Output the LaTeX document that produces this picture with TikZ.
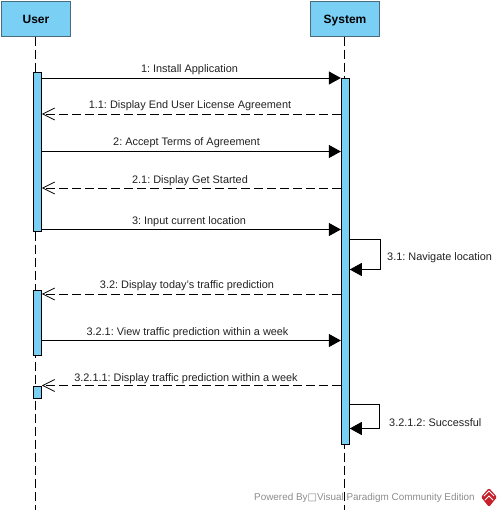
\documentclass[tikz,border=0pt]{standalone}
\usepackage{fontspec}
\setmainfont{Liberation Sans}
\newfontfamily\symfont{DejaVu Sans}
\usetikzlibrary{arrows.meta}
\definecolor{vpfill}{HTML}{7ACFF5}
\definecolor{vpedge}{HTML}{4A6B7C}
\definecolor{vptext}{HTML}{222222}
\definecolor{wmark}{HTML}{8C8C8C}
\definecolor{logored}{HTML}{C8202A}
\tikzset{
  x=1pt,y=-1pt,
  headbox/.style={draw=vpedge,fill=vpfill,line width=0.9pt,minimum width=69pt,minimum height=35pt,inner sep=0pt,font=\bfseries\fontsize{12}{14}\selectfont},
  actbox/.style={draw=black,fill=vpfill,line width=0.9pt,minimum width=8pt,inner sep=0pt},
  lifeline/.style={draw=black,line width=0.9pt,dash pattern=on 9pt off 4pt},
  sync/.style={draw=black,line width=0.9pt,-{Triangle[length=12pt,width=13pt]}},
  reply/.style={draw=black,line width=0.8pt,dash pattern=on 9pt off 4pt,-{Straight Barb[length=12pt,width=12pt,line width=0.7pt]}},
  msg/.style={font=\frenchspacing\fontsize{10.9}{12}\selectfont,text=vptext,inner sep=0pt,anchor=center},
}
\begin{document}
\begin{tikzpicture}
\useasboundingbox (0,0) rectangle (502,514);
\node[headbox] (user) at (36,19) {\raisebox{-5pt}[0pt][0pt]{User}};
\node[headbox] (system) at (345,19) {\raisebox{-5pt}[0pt][0pt]{System}};
\coordinate (uend) at (35,510);
\coordinate (send) at (344.5,510);
\draw[lifeline] (35,36.5) -- (uend);
\draw[lifeline] (344.5,36.5) -- (send);
\node[actbox,minimum height=159pt] (ua) at (37.5,151.5) {};
\node[actbox,minimum height=65.5pt] (ub) at (37.5,322.75) {};
\node[actbox,minimum height=12pt] (uc) at (37.5,392) {};
\node[actbox,minimum height=366pt] (sa) at (345.3,261) {};
% messages
\draw[sync] (ua.east |- 0,78) -- (sa.west |- 0,78);
\node[msg] (m1) at (189.5,69.5) {1: Install Application};
\draw[reply] (sa.west |- 0,114) -- (ua.east |- 0,114);
\node[msg] (m2) at (190,105.5) {1.1: Display End User License Agreement};
\draw[sync] (ua.east |- 0,151.5) -- (sa.west |- 0,151.5);
\node[msg] (m3) at (186.5,143) {2: Accept Terms of Agreement};
\draw[reply] (sa.west |- 0,188) -- (ua.east |- 0,188);
\node[msg] (m4) at (190,181) {2.1: Display Get Started};
\draw[sync] (ua.east |- 0,229.5) -- (sa.west |- 0,229.5);
\node[msg] (m5) at (189,221.5) {3: Input current location};
\coordinate (s1) at (380,239);
\coordinate (s2) at (380,269.5);
\draw[sync] (sa.east |- s1) -- (s1) -- (s2) -- (sa.east |- s2);
\node[msg,anchor=west] (m6) at (387,257.5) {3.1: Navigate location};
\draw[reply] (sa.west |- 0,294) -- (ub.east |- 0,294);
\node[msg] (m7) at (187,286) {3.2: Display today's traffic prediction};
\draw[sync] (ub.east |- 0,340.5) -- (sa.west |- 0,340.5);
\node[msg] (m8) at (187.5,332.5) {3.2.1: View traffic prediction within a week};
\draw[reply] (sa.west |- 0,385.5) -- (uc.east |- 0,385.5);
\node[msg] (m9) at (186,378.5) {3.2.1.1: Display traffic prediction within a week};
\coordinate (s3) at (379.5,404);
\coordinate (s4) at (379.5,428.5);
\draw[sync] (sa.east |- s3) -- (s3) -- (s4) -- (sa.east |- s4);
\node[msg,anchor=west] (m10) at (389,422.5) {3.2.1.2: Successful};
% watermark
\node[font=\fontsize{9.9}{12}\selectfont,text=wmark,inner sep=0pt,anchor=west] (wm) at (254,497.5) {Powered By{\symfont\fontsize{10}{10}\selectfont □}Visual Paradigm Community Edition};
% logo
\fill[logored,rounded corners=1.5pt] (489,488) -- (497,497) -- (489,507) -- (481,497) -- cycle;
\draw[white,line width=0.8pt] (484,496) -- (489,491) -- (494,496) (485,500) -- (489,496) -- (493,500);
\end{tikzpicture}
\end{document}
